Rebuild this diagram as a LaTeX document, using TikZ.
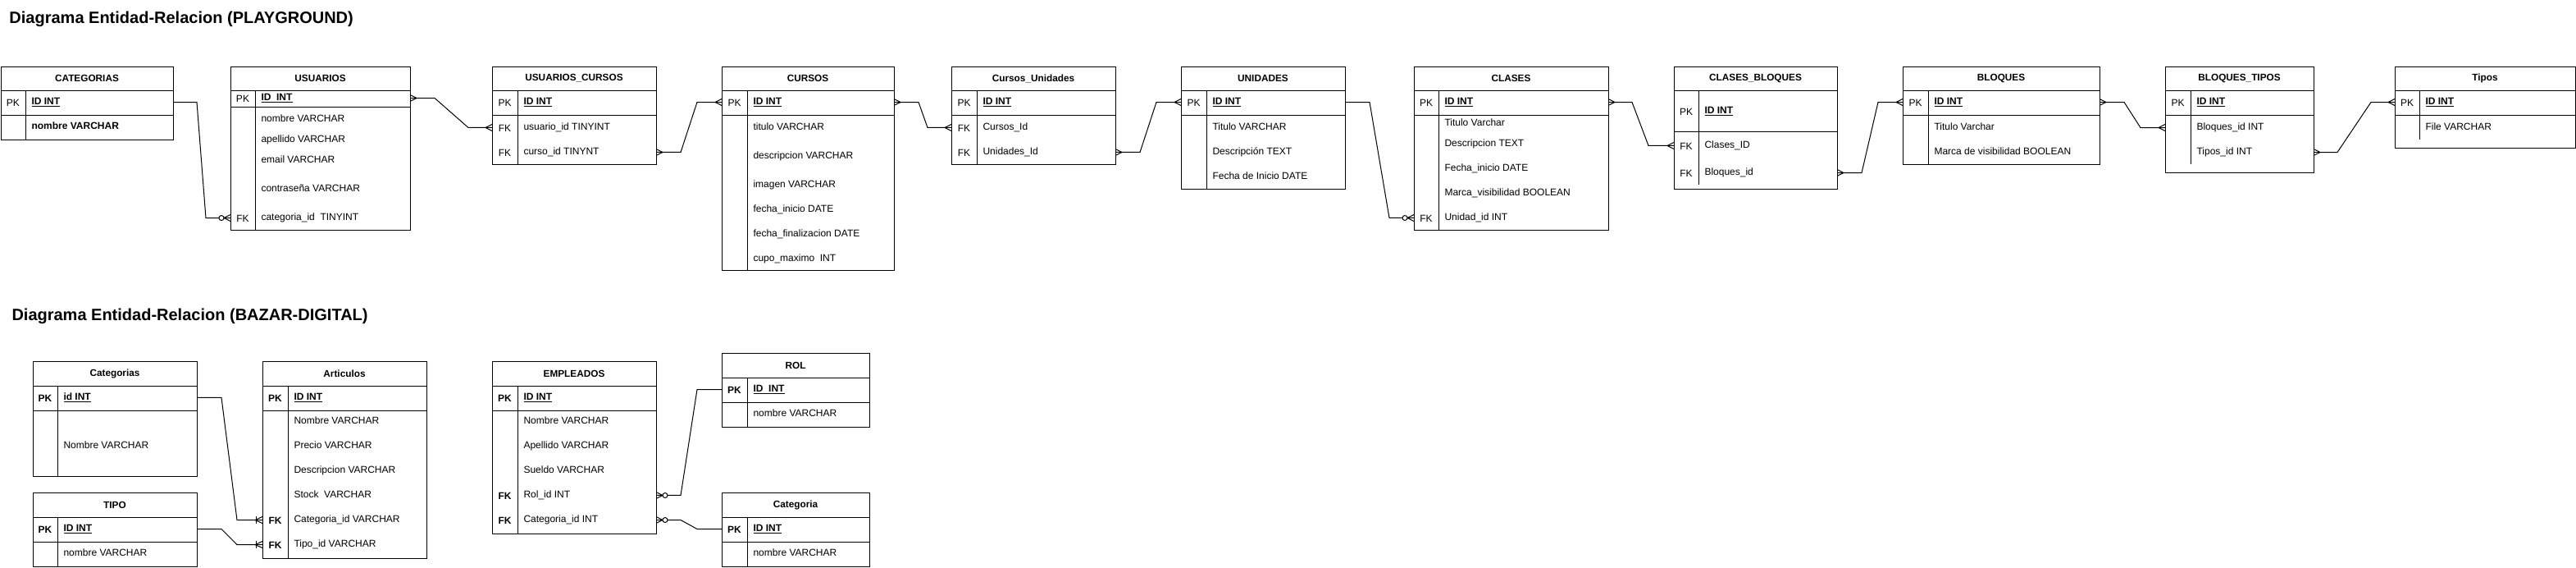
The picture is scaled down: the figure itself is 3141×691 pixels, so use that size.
\documentclass[tikz,border=0pt]{standalone}
\usepackage{fontspec}
\setmainfont{Liberation Sans}
\usetikzlibrary{calc}

\tikzset{
  tbl/.style={draw, anchor=north west, inner sep=0pt, outer sep=0pt},
  ttl/.style={anchor=base west, inner sep=0pt, font=\bfseries\fontsize{20}{24}\selectfont},
  hdr/.style={inner sep=0pt, font=\bfseries\fontsize{11.8}{14}\selectfont},
  key/.style={inner sep=0pt, font=\fontsize{12}{14}\selectfont},
  bkey/.style={key, font=\bfseries\fontsize{12}{14}\selectfont},
  fld/.style={anchor=mid west, inner sep=0pt, font=\fontsize{12}{14}\selectfont},
  pkf/.style={fld, font=\bfseries\fontsize{12}{14}\selectfont},
  crowfoot/.pic={\draw (0,-4) -- (-8,0) -- (0,4);},
  crowzero/.pic={\draw (0,-4) -- (-8,0) -- (0,4); \draw[fill=white] (-11,0) circle[radius=3];},
  crowone/.pic={\draw (0,-4) -- (-9,0) -- (0,4); \draw (-8,-4.5) -- (-8,4.5);}
}

\begin{document}
\begin{tikzpicture}[x=1pt, y=-1pt, line width=1pt]
\useasboundingbox (0,0) rectangle (3141,691);

% Titles
\node[ttl] (tit1) at (11,28) {Diagrama Entidad-Relacion (PLAYGROUND)};
\node[ttl] (tit2) at (14,390) {Diagrama Entidad-Relacion (BAZAR-DIGITAL)};

% ---------------- PLAYGROUND ----------------

% CATEGORIAS
\node[tbl, minimum width=210pt, minimum height=89pt] (cat) at (1,81) {};
\draw (1,110) -- (211,110);
\draw (1,140) -- (211,140);
\draw (31,110) -- (31,170);
\node[hdr] (catt) at (106,95.5) {CATEGORIAS};
\node[key] (catk) at (16,125) {PK};
\node[pkf] (catpk) at (38,125) {\underline{ID INT}};
\node[pkf] (catf1) at (38,155) {nombre VARCHAR};

% USUARIOS
\node[tbl, minimum width=219pt, minimum height=199pt] (usr) at (281,81) {};
\draw (281,110) -- (500,110);
\draw (281,130) -- (500,130);
\draw (311,110) -- (311,280);
\node[hdr] (usrt) at (390.5,95.5) {USUARIOS};
\node[key] (usrk) at (296,120) {PK};
\node[pkf] (usrpk) at (318,120) {\underline{ID~~INT}};
\node[fld] (usrf1) at (318,146) {nombre VARCHAR};
\node[fld] (usrf2) at (318,171) {apellido VARCHAR};
\node[fld] (usrf3) at (318,196) {email VARCHAR};
\node[fld] (usrf4) at (318,231) {contraseña VARCHAR};
\node[key] (usrk2) at (296,266) {FK};
\node[fld] (usrfk) at (318,266) {categoria\_id~~TINYINT};

% USUARIOS_CURSOS
\node[tbl, minimum width=200pt, minimum height=119pt] (uc) at (600,81) {};
\draw (600,110) -- (800,110);
\draw (600,140) -- (800,140);
\draw (631,110) -- (631,200);
\node[hdr] (uct) at (700,95.5) {USUARIOS\_CURSOS};
\node[key] (uck) at (615.5,125) {PK};
\node[pkf] (ucpk) at (638,125) {\underline{ID INT}};
\node[key] (uck2) at (615.5,156) {FK};
\node[fld] (ucusu) at (638,156) {usuario\_id TINYINT};
\node[key] (uck3) at (615.5,186) {FK};
\node[fld] (uccur) at (638,186) {curso\_id TINYNT};

% CURSOS
\node[tbl, minimum width=210pt, minimum height=248pt] (cur) at (880,81) {};
\draw (880,110) -- (1090,110);
\draw (880,140) -- (1090,140);
\draw (911,110) -- (911,329);
\node[hdr] (curt) at (985,95.5) {CURSOS};
\node[key] (curk) at (895.5,125) {PK};
\node[pkf] (curpk) at (918,125) {\underline{ID INT}};
\node[fld] (curf1) at (918,156) {titulo VARCHAR};
\node[fld] (curf2) at (918,191) {descripcion VARCHAR};
\node[fld] (curf3) at (918,226) {imagen VARCHAR};
\node[fld] (curf4) at (918,256) {fecha\_inicio DATE};
\node[fld] (curf5) at (918,286) {fecha\_finalizacion DATE};
\node[fld] (curf6) at (918,316) {cupo\_maximo~~INT};

% Cursos_Unidades
\node[tbl, minimum width=200pt, minimum height=119pt] (cu) at (1160,81) {};
\draw (1160,110) -- (1360,110);
\draw (1160,140) -- (1360,140);
\draw (1191,110) -- (1191,200);
\node[hdr] (cut) at (1260,95.5) {Cursos\_Unidades};
\node[key] (cuk) at (1175.5,125) {PK};
\node[pkf] (cupk) at (1198,125) {\underline{ID INT}};
\node[key] (cuk2) at (1175.5,156) {FK};
\node[fld] (cucur) at (1198,156) {Cursos\_Id};
\node[key] (cuk3) at (1175.5,186) {FK};
\node[fld] (cuuni) at (1198,186) {Unidades\_Id};

% UNIDADES
\node[tbl, minimum width=200pt, minimum height=149pt] (uni) at (1440,81) {};
\draw (1440,110) -- (1640,110);
\draw (1440,140) -- (1640,140);
\draw (1471,110) -- (1471,230);
\node[hdr] (unit) at (1540,95.5) {UNIDADES};
\node[key] (unik) at (1455.5,125) {PK};
\node[pkf] (unipk) at (1478,125) {\underline{ID INT}};
\node[fld] (unif1) at (1478,156) {Titulo VARCHAR};
\node[fld] (unif2) at (1478,186) {Descripción TEXT};
\node[fld] (unif3) at (1478,216) {Fecha de Inicio DATE};

% CLASES
\node[tbl, minimum width=237pt, minimum height=199pt] (cla) at (1724,81) {};
\draw (1724,110) -- (1961,110);
\draw (1724,140) -- (1961,140);
\draw (1754,110) -- (1754,280);
\node[hdr] (clat) at (1842.5,95.5) {CLASES};
\node[key] (clak) at (1739,125) {PK};
\node[pkf] (clapk) at (1761,125) {\underline{ID INT}};
\node[fld] (claf1) at (1761,151) {Titulo Varchar};
\node[fld] (claf2) at (1761,176) {Descripcion TEXT};
\node[fld] (claf3) at (1761,206) {Fecha\_inicio DATE};
\node[fld] (claf4) at (1761,236) {Marca\_visibilidad BOOLEAN};
\node[key] (clak2) at (1739,266) {FK};
\node[fld] (clafk) at (1761,266) {Unidad\_id INT};

% CLASES_BLOQUES
\node[tbl, minimum width=199pt, minimum height=149pt] (cb) at (2041,81) {};
\draw (2041,110) -- (2240,110);
\draw (2041,160) -- (2240,160);
\draw (2071,110) -- (2071,225);
\node[hdr] (cbt) at (2140.5,95.5) {CLASES\_BLOQUES};
\node[key] (cbk) at (2056,136) {PK};
\node[pkf] (cbpk) at (2078,136) {\underline{ID INT}};
\node[key] (cbk2) at (2056,178) {FK};
\node[fld] (cbcla) at (2078,178) {Clases\_ID};
\node[key] (cbk3) at (2056,211) {FK};
\node[fld] (cbblo) at (2078,211) {Bloques\_id};

% BLOQUES
\node[tbl, minimum width=240pt, minimum height=119pt] (blo) at (2320,81) {};
\draw (2320,110) -- (2560,110);
\draw (2320,140) -- (2560,140);
\draw (2351,110) -- (2351,200);
\node[hdr] (blot) at (2440,95.5) {BLOQUES};
\node[key] (blok) at (2335.5,125) {PK};
\node[pkf] (blopk) at (2358,125) {\underline{ID INT}};
\node[fld] (blof1) at (2358,156) {Titulo Varchar};
\node[fld] (blof2) at (2358,186) {Marca de visibilidad BOOLEAN};

% BLOQUES_TIPOS
\node[tbl, minimum width=181pt, minimum height=129pt] (bt) at (2640,81) {};
\draw (2640,110) -- (2821,110);
\draw (2640,140) -- (2821,140);
\draw (2671,110) -- (2671,200);
\node[hdr] (btt) at (2730.5,95.5) {BLOQUES\_TIPOS};
\node[key] (btk) at (2655.5,125) {PK};
\node[pkf] (btpk) at (2678,125) {\underline{ID INT}};
\node[fld] (btblo) at (2678,156) {Bloques\_id INT};
\node[fld] (bttip) at (2678,186) {Tipos\_id INT};

% Tipos
\node[tbl, minimum width=220pt, minimum height=99pt] (tip) at (2920,81) {};
\draw (2920,110) -- (3140,110);
\draw (2920,140) -- (3140,140);
\draw (2950,110) -- (2950,170);
\node[hdr] (tipt) at (3030,95.5) {Tipos};
\node[key] (tipk) at (2935,125) {PK};
\node[pkf] (tippk) at (2957,125) {\underline{ID INT}};
\node[fld] (tipf1) at (2957,156) {File VARCHAR};

% Relations (playground)
\draw (catpk -| cat.east) -- ++(29,0) -- ($(usrfk -| usr.west)+(-30,0)$) -- (usrfk -| usr.west);
\draw (usrpk -| usr.east) -- ++(30,0) -- ($(ucusu -| uc.west)+(-29,0)$) -- (ucusu -| uc.west);
\draw (uccur -| uc.east) -- ++(30,0) -- ($(curpk -| cur.west)+(-30,0)$) -- (curpk -| cur.west);
\draw (curpk -| cur.east) -- ++(30,0) -- ($(cucur -| cu.west)+(-29,0)$) -- (cucur -| cu.west);
\draw (cuuni -| cu.east) -- ++(30,0) -- ($(unipk -| uni.west)+(-30,0)$) -- (unipk -| uni.west);
\draw (unipk -| uni.east) -- ++(30,0) -- ($(clafk -| cla.west)+(-30,0)$) -- (clafk -| cla.west);
\draw (clapk -| cla.east) -- ++(29,0) -- ($(cbcla -| cb.west)+(-31,0)$) -- (cbcla -| cb.west);
\draw (cbblo -| cb.east) -- ++(30,0) -- ($(blopk -| blo.west)+(-30,0)$) -- (blopk -| blo.west);
\draw (blopk -| blo.east) -- ++(30,0) -- ($(btblo -| bt.west)+(-30,0)$) -- (btblo -| bt.west);
\draw (bttip -| bt.east) -- ++(29,0) -- ($(tippk -| tip.west)+(-29,0)$) -- (tippk -| tip.west);

% crow's feet
\pic at (usrfk -| usr.west) {crowzero};
\pic[xscale=-1] at (usrpk -| usr.east) {crowfoot};
\pic at (ucusu -| uc.west) {crowfoot};
\pic[xscale=-1] at (uccur -| uc.east) {crowfoot};
\pic at (curpk -| cur.west) {crowfoot};
\pic[xscale=-1] at (curpk -| cur.east) {crowfoot};
\pic at (cucur -| cu.west) {crowfoot};
\pic[xscale=-1] at (cuuni -| cu.east) {crowfoot};
\pic at (unipk -| uni.west) {crowfoot};
\pic at (clafk -| cla.west) {crowzero};
\pic[xscale=-1] at (clapk -| cla.east) {crowfoot};
\pic at (cbcla -| cb.west) {crowfoot};
\pic[xscale=-1] at (cbblo -| cb.east) {crowfoot};
\pic at (blopk -| blo.west) {crowfoot};
\pic[xscale=-1] at (blopk -| blo.east) {crowfoot};
\pic at (btblo -| bt.west) {crowfoot};
\pic[xscale=-1] at (bttip -| bt.east) {crowfoot};
\pic at (tippk -| tip.west) {crowfoot};

% ---------------- BAZAR-DIGITAL ----------------

% Categorias
\node[tbl, minimum width=200pt, minimum height=140pt] (bcat) at (40,440) {};
\draw (40,470) -- (240,470);
\draw (40,500) -- (240,500);
\draw (70,470) -- (70,580);
\node[hdr] (bcatt) at (140,455) {Categorias};
\node[bkey] (bcatk) at (55,485) {PK};
\node[pkf] (bcatpk) at (77,485) {\underline{id INT}};
\node[fld] (bcatf1) at (77,544) {Nombre VARCHAR};

% TIPO
\node[tbl, minimum width=200pt, minimum height=90pt] (btip) at (40,600) {};
\draw (40,630) -- (240,630);
\draw (40,660) -- (240,660);
\draw (70,630) -- (70,690);
\node[hdr] (btipt) at (140,615) {TIPO};
\node[bkey] (btipk) at (55,645) {PK};
\node[pkf] (btippk) at (77,645) {\underline{ID INT}};
\node[fld] (btipf1) at (77,675) {nombre VARCHAR};

% Articulos
\node[tbl, minimum width=200pt, minimum height=240pt] (art) at (320,440) {};
\draw (320,470) -- (520,470);
\draw (320,500) -- (520,500);
\draw (351,470) -- (351,680);
\node[hdr] (artt) at (420,455) {Articulos};
\node[bkey] (artk) at (335.5,485) {PK};
\node[pkf] (artpk) at (358,485) {\underline{ID INT}};
\node[fld] (artf1) at (358,514) {Nombre VARCHAR};
\node[fld] (artf2) at (358,544) {Precio VARCHAR};
\node[fld] (artf3) at (358,574) {Descripcion VARCHAR};
\node[fld] (artf4) at (358,604) {Stock~~VARCHAR};
\node[bkey] (artk2) at (335.5,634) {FK};
\node[fld] (artcat) at (358,634) {Categoria\_id VARCHAR};
\node[bkey] (artk3) at (335.5,664) {FK};
\node[fld] (arttip) at (358,664) {Tipo\_id VARCHAR};

% EMPLEADOS
\node[tbl, minimum width=200pt, minimum height=210pt] (emp) at (600,440) {};
\draw (600,470) -- (800,470);
\draw (600,500) -- (800,500);
\draw (631,470) -- (631,650);
\node[hdr] (empt) at (700,455) {EMPLEADOS};
\node[bkey] (empk) at (615.5,485) {PK};
\node[pkf] (emppk) at (638,485) {\underline{ID INT}};
\node[fld] (empf1) at (638,514) {Nombre VARCHAR};
\node[fld] (empf2) at (638,544) {Apellido VARCHAR};
\node[fld] (empf3) at (638,574) {Sueldo VARCHAR};
\node[bkey] (empk2) at (615.5,604) {FK};
\node[fld] (emprol) at (638,604) {Rol\_id INT};
\node[bkey] (empk3) at (615.5,634) {FK};
\node[fld] (empcat) at (638,634) {Categoria\_id INT};

% ROL
\node[tbl, minimum width=180pt, minimum height=90pt] (rol) at (880,430) {};
\draw (880,460) -- (1060,460);
\draw (880,490) -- (1060,490);
\draw (911,460) -- (911,520);
\node[hdr] (rolt) at (970,445) {ROL};
\node[bkey] (rolk) at (895.5,475) {PK};
\node[pkf] (rolpk) at (918,475) {\underline{ID~~INT}};
\node[fld] (rolf1) at (918,505) {nombre VARCHAR};

% Categoria
\node[tbl, minimum width=180pt, minimum height=90pt] (bcg) at (880,600) {};
\draw (880,630) -- (1060,630);
\draw (880,660) -- (1060,660);
\draw (911,630) -- (911,690);
\node[hdr] (bcgt) at (970,615) {Categoria};
\node[bkey] (bcgk) at (895.5,645) {PK};
\node[pkf] (bcgpk) at (918,645) {\underline{ID INT}};
\node[fld] (bcgf1) at (918,675) {nombre VARCHAR};

% Relations (bazar)
\draw (bcatpk -| bcat.east) -- ++(30,0) -- ($(artcat -| art.west)+(-31,0)$) -- (artcat -| art.west);
\draw (btippk -| btip.east) -- ++(30,0) -- ($(arttip -| art.west)+(-31,0)$) -- (arttip -| art.west);
\draw (rolpk -| rol.west) -- ++(-30,0) -- ($(emprol -| emp.east)+(30,0)$) -- (emprol -| emp.east);
\draw (bcgpk -| bcg.west) -- ++(-30,0) -- ($(empcat -| emp.east)+(30,0)$) -- (empcat -| emp.east);

\pic at (artcat -| art.west) {crowone};
\pic at (arttip -| art.west) {crowone};
\pic[xscale=-1] at (emprol -| emp.east) {crowzero};
\pic[xscale=-1] at (empcat -| emp.east) {crowzero};

\end{tikzpicture}
\end{document}
